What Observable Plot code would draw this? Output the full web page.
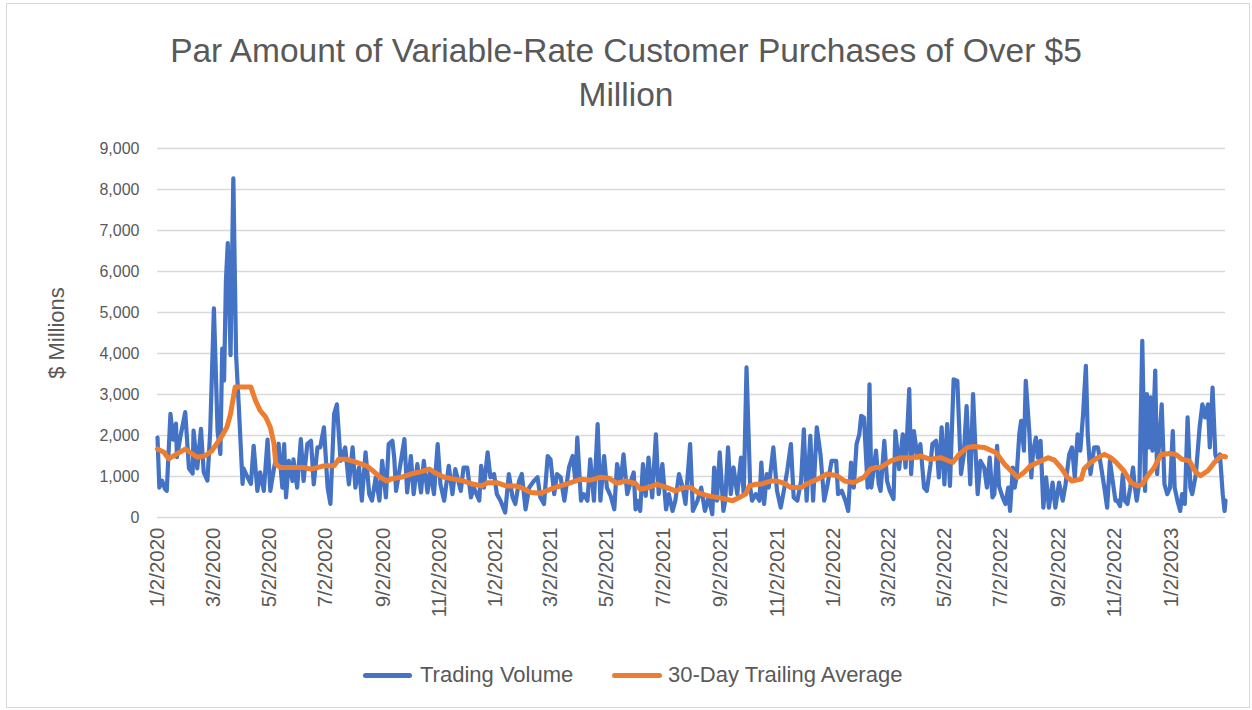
<!DOCTYPE html>
<html><head><meta charset="utf-8">
<script src="https://cdn.jsdelivr.net/npm/d3@7"></script>
<script src="https://cdn.jsdelivr.net/npm/@observablehq/plot@0.6"></script>
<style>
html,body{margin:0;padding:0;background:#fff;}
#chart{position:relative;width:1252px;height:710px;font-family:"Liberation Sans",Arial,sans-serif;color:#595959;overflow:hidden;background:#fff;}
#frame{position:absolute;left:6px;top:3px;width:1244px;height:705px;border:1px solid #d9d9d9;box-sizing:border-box;}
#title{position:absolute;left:0;width:1252px;top:29px;text-align:center;font-size:33.5px;line-height:44px;white-space:nowrap;}
#plot{position:absolute;left:0;top:120px;}
#ytitle{position:absolute;left:-43px;top:320px;width:200px;height:26px;line-height:26px;text-align:center;font-size:22px;transform:rotate(-90deg);transform-origin:50% 50%;white-space:nowrap;}
.sw{position:absolute;height:5px;border-radius:2.5px;top:673px;}
.lt{position:absolute;top:662px;font-size:22px;line-height:26px;white-space:nowrap;}
</style></head>
<body>
<div id="chart">
  <div id="frame"></div>
  <div id="title"></div>
  <div id="plot"></div>
  <div id="ytitle"></div>
  <div id="legend"></div>
</div>
<script>
// ---------- data ----------
const titleLines = ["Par Amount of Variable-Rate Customer Purchases of Over $5", "Million"];
const yAxisTitle = "$ Millions";
const seriesNames = ["Trading Volume", "30-Day Trailing Average"];
const seriesColors = ["#4472C4", "#ED7D31"];

const yTicks = [0, 1000, 2000, 3000, 4000, 5000, 6000, 7000, 8000, 9000];
const xTickDates = ["2020-01-02","2020-03-02","2020-05-02","2020-07-02","2020-09-02","2020-11-02",
  "2021-01-02","2021-03-02","2021-05-02","2021-07-02","2021-09-02","2021-11-02",
  "2022-01-02","2022-03-02","2022-05-02","2022-07-02","2022-09-02","2022-11-02","2023-01-02"];
const xTickLabels = ["1/2/2020","3/2/2020","5/2/2020","7/2/2020","9/2/2020","11/2/2020",
  "1/2/2021","3/2/2021","5/2/2021","7/2/2021","9/2/2021","11/2/2021",
  "1/2/2022","3/2/2022","5/2/2022","7/2/2022","9/2/2022","11/2/2022","1/2/2023"];
const xDomain = ["2020-01-02", "2023-03-02"];

// Trading Volume ($ millions)
const volumeDates = [
"2020-01-02","2020-01-04","2020-01-07","2020-01-10","2020-01-12","2020-01-16","2020-01-19","2020-01-22","2020-01-23","2020-01-27",
"2020-02-01","2020-02-05","2020-02-09","2020-02-10","2020-02-14","2020-02-18","2020-02-21","2020-02-25","2020-02-28",
"2020-03-03","2020-03-07","2020-03-10","2020-03-12","2020-03-14","2020-03-16","2020-03-18","2020-03-21","2020-03-24","2020-03-27","2020-03-30",
"2020-04-03","2020-04-04","2020-04-08","2020-04-12","2020-04-15","2020-04-19","2020-04-22","2020-04-26","2020-04-30",
"2020-05-03","2020-05-07","2020-05-12","2020-05-16","2020-05-18","2020-05-20","2020-05-23","2020-05-27","2020-05-28",
"2020-06-01","2020-06-05","2020-06-08","2020-06-12","2020-06-16","2020-06-19","2020-06-23","2020-06-26","2020-06-30",
"2020-07-04","2020-07-07","2020-07-11","2020-07-14","2020-07-18","2020-07-23","2020-07-27","2020-07-31",
"2020-08-03","2020-08-07","2020-08-10","2020-08-14","2020-08-18","2020-08-21","2020-08-25","2020-08-29",
"2020-09-01","2020-09-05","2020-09-08","2020-09-12","2020-09-14","2020-09-16","2020-09-19","2020-09-25","2020-09-28",
"2020-10-02","2020-10-05","2020-10-09","2020-10-13","2020-10-16","2020-10-20","2020-10-23","2020-10-27","2020-10-31",
"2020-11-03","2020-11-07","2020-11-12","2020-11-16","2020-11-19","2020-11-25","2020-11-28",
"2020-12-02","2020-12-06","2020-12-09","2020-12-15","2020-12-17","2020-12-20","2020-12-24","2020-12-27","2020-12-31",
"2021-01-03","2021-01-07","2021-01-12","2021-01-16","2021-01-20","2021-01-23","2021-01-27","2021-01-30",
"2021-02-03","2021-02-07","2021-02-12","2021-02-16","2021-02-19","2021-02-23","2021-02-27",
"2021-03-02","2021-03-06","2021-03-09","2021-03-13","2021-03-17","2021-03-22","2021-03-26","2021-03-29","2021-03-31",
"2021-04-04","2021-04-07","2021-04-11","2021-04-14","2021-04-18","2021-04-22","2021-04-25","2021-04-29",
"2021-05-02","2021-05-06","2021-05-10","2021-05-13","2021-05-17","2021-05-20","2021-05-24","2021-05-28","2021-05-31",
"2021-06-02","2021-06-04","2021-06-07","2021-06-10","2021-06-13","2021-06-16","2021-06-20","2021-06-24","2021-06-27",
"2021-07-01","2021-07-05","2021-07-08","2021-07-12","2021-07-15","2021-07-19","2021-07-23","2021-07-26","2021-07-31",
"2021-08-03","2021-08-08","2021-08-12","2021-08-16","2021-08-20","2021-08-24","2021-08-26","2021-08-29",
"2021-09-01","2021-09-05","2021-09-07","2021-09-10","2021-09-13","2021-09-16","2021-09-20","2021-09-24","2021-09-27","2021-09-30",
"2021-10-04","2021-10-06","2021-10-10","2021-10-14","2021-10-16","2021-10-19","2021-10-22","2021-10-24","2021-10-29",
"2021-11-02","2021-11-06","2021-11-10","2021-11-13","2021-11-17","2021-11-20","2021-11-24","2021-11-28",
"2021-12-01","2021-12-04","2021-12-08","2021-12-11","2021-12-15","2021-12-19","2021-12-23","2021-12-26","2021-12-31",
"2022-01-05","2022-01-07","2022-01-11","2022-01-15","2022-01-18","2022-01-21","2022-01-24","2022-01-27","2022-01-30",
"2022-02-01","2022-02-04","2022-02-08","2022-02-10","2022-02-12","2022-02-17","2022-02-20","2022-02-22","2022-02-26",
"2022-03-01","2022-03-04","2022-03-08","2022-03-10","2022-03-14","2022-03-18","2022-03-21","2022-03-25","2022-03-27","2022-03-30",
"2022-04-03","2022-04-06","2022-04-10","2022-04-13","2022-04-17","2022-04-19","2022-04-23","2022-04-26","2022-04-29",
"2022-05-02","2022-05-05","2022-05-08","2022-05-12","2022-05-16","2022-05-20","2022-05-23","2022-05-26","2022-05-30",
"2022-06-02","2022-06-05","2022-06-07","2022-06-10","2022-06-14","2022-06-17","2022-06-20","2022-06-23","2022-06-25","2022-06-28","2022-06-30",
"2022-07-04","2022-07-07","2022-07-10","2022-07-12","2022-07-15","2022-07-17","2022-07-19","2022-07-22","2022-07-24","2022-07-27","2022-07-29",
"2022-08-02","2022-08-04","2022-08-06","2022-08-09","2022-08-11","2022-08-14","2022-08-17","2022-08-20","2022-08-23","2022-08-27","2022-08-30",
"2022-09-03","2022-09-07","2022-09-10","2022-09-14","2022-09-17","2022-09-20","2022-09-23","2022-09-26","2022-09-29",
"2022-10-02","2022-10-04","2022-10-07","2022-10-11","2022-10-15","2022-10-18","2022-10-22","2022-10-25","2022-10-28","2022-10-31",
"2022-11-03","2022-11-05","2022-11-08","2022-11-11","2022-11-13","2022-11-16","2022-11-19","2022-11-22","2022-11-24","2022-11-26","2022-11-29",
"2022-12-02","2022-12-05","2022-12-07","2022-12-09","2022-12-11","2022-12-13","2022-12-16","2022-12-18","2022-12-23","2022-12-26","2022-12-29",
"2023-01-01","2023-01-04","2023-01-06","2023-01-09","2023-01-12","2023-01-14","2023-01-17","2023-01-20","2023-01-23","2023-01-25","2023-01-29",
"2023-02-02","2023-02-05","2023-02-08","2023-02-11","2023-02-13","2023-02-16","2023-02-19","2023-02-21","2023-02-24","2023-02-27",
"2023-03-01","2023-03-02"];
const volumeValues = [
1950,730,900,700,650,2530,1900,2290,1470,2000,
2570,1200,1070,2120,1200,2160,1100,900,2100,
5100,2100,1550,4120,3340,5780,6690,3960,8270,3960,2680,
820,1200,1000,820,1750,650,1100,650,1900,
650,1200,1800,730,1790,490,1380,890,1420,
730,1910,890,1790,1870,810,1710,1710,2200,
730,330,2520,2760,1380,1710,810,1710,
730,1220,410,1590,570,410,980,410,
1380,490,1790,1870,1460,650,1060,1910,610,
1500,570,1300,610,1380,610,1140,570,1790,
810,410,1260,570,1180,650,1220,
1220,490,730,410,1260,730,1590,980,1060,
570,410,120,1060,490,330,890,1060,
200,730,890,980,490,330,1500,
1420,570,1060,980,410,1220,1500,890,1950,
410,570,410,1420,410,2280,410,1500,
730,530,200,1300,890,1540,570,890,1100,
200,410,160,1300,530,1460,490,2030,570,
1300,200,570,160,410,1060,730,330,1790,
160,410,730,160,490,80,1220,410,
1590,160,410,1710,570,1220,570,1460,570,3660,
730,410,570,410,1340,330,1060,730,1710,
650,240,730,1140,1790,490,410,890,
2150,410,1990,410,2200,1540,410,730,1380,
1380,570,650,410,160,1340,730,1790,2030,
2480,2440,730,3250,730,1630,810,650,1870,
890,650,450,2110,1180,2030,1220,3130,1060,2110,
1460,1790,730,650,1300,1790,1870,980,2200,
810,2280,770,3370,3330,1060,1540,2720,810,
3010,1460,570,1380,1220,730,1460,490,570,1750,770,
490,330,730,160,1220,730,980,2030,2360,1630,3330,
2030,980,1630,1950,1460,1870,240,980,240,850,240,
850,410,810,1540,1710,980,2030,1630,2520,
3700,2030,1060,1710,1710,1300,730,240,1380,890,
410,410,280,1060,410,330,730,1220,730,410,890,
4310,650,3010,1710,2930,1630,3580,1060,2760,810,570,
730,2110,730,410,160,570,330,2440,730,570,1060,
2200,2760,2440,2760,1710,3170,1540,1380,1540,570,
160,410];

// 30-Day Trailing Average ($ millions)
const averageDates = [
"2020-01-02","2020-01-09","2020-01-14","2020-01-23","2020-02-01","2020-02-14","2020-02-23","2020-03-01","2020-03-07","2020-03-12",
"2020-03-17","2020-03-21","2020-03-26","2020-04-12","2020-04-17","2020-04-22","2020-04-28","2020-05-03","2020-05-07","2020-05-09",
"2020-05-14","2020-05-25","2020-06-08","2020-06-16","2020-06-30","2020-07-11","2020-07-16","2020-07-25","2020-08-05","2020-08-15",
"2020-08-22","2020-08-30","2020-09-06","2020-09-10","2020-09-21","2020-10-02","2020-10-13","2020-10-22","2020-10-31","2020-11-07",
"2020-11-18","2020-11-28","2020-12-09","2020-12-18","2020-12-24","2021-01-03","2021-01-13","2021-01-23","2021-01-29","2021-02-09",
"2021-02-19","2021-03-02","2021-03-13","2021-03-24","2021-04-04","2021-04-14","2021-04-25","2021-05-04","2021-05-13","2021-05-22",
"2021-06-02","2021-06-07","2021-06-16","2021-06-25","2021-07-06","2021-07-15","2021-07-24","2021-08-01","2021-08-08","2021-08-19",
"2021-08-29","2021-09-07","2021-09-15","2021-09-22","2021-09-29","2021-10-03","2021-10-10","2021-10-15","2021-10-26","2021-11-02",
"2021-11-10","2021-11-17","2021-11-28","2021-12-05","2021-12-16","2021-12-26","2022-01-06","2022-01-14","2022-01-24","2022-02-04",
"2022-02-11","2022-02-17","2022-02-22","2022-03-05","2022-03-16","2022-03-27","2022-04-06","2022-04-17","2022-04-28","2022-05-11",
"2022-05-18","2022-05-27","2022-06-03","2022-06-14","2022-06-27","2022-07-06","2022-07-13","2022-07-20","2022-07-27","2022-08-03",
"2022-08-11","2022-08-22","2022-08-29","2022-09-05","2022-09-12","2022-09-17","2022-09-27","2022-09-30","2022-10-07","2022-10-15",
"2022-10-22","2022-10-29","2022-11-04","2022-11-12","2022-11-20","2022-11-27","2022-12-02","2022-12-08","2022-12-15","2022-12-22",
"2022-12-31","2023-01-07","2023-01-14","2023-01-22","2023-01-29","2023-02-03","2023-02-11","2023-02-18","2023-02-25","2023-03-02"];
const averageValues = [
1670,1590,1430,1550,1670,1470,1510,1630,1830,2000,
2200,2530,3180,3180,2850,2610,2450,2200,1800,1300,
1220,1220,1220,1180,1260,1260,1420,1420,1340,1260,
1140,980,890,935,980,1060,1120,1180,1060,980,
935,890,810,770,850,850,770,770,730,610,
590,690,770,850,935,910,980,960,830,890,
830,690,730,810,730,650,730,730,610,530,
490,450,410,490,570,770,810,810,890,890,
830,730,730,830,935,1060,1020,890,850,980,
1180,1220,1220,1380,1460,1450,1500,1420,1460,1340,
1540,1710,1730,1710,1580,1300,1140,980,1100,1260,
1340,1460,1400,1220,980,890,935,1180,1340,1460,
1540,1460,1340,1140,850,770,810,1020,1220,1530,
1560,1540,1420,1380,1100,1020,1140,1340,1500,1480];

// ---------- build ----------
const parse = d3.utcParse("%Y-%m-%d");
const volume = volumeDates.map((d, i) => ({date: parse(d), value: volumeValues[i]}));
const average = averageDates.map((d, i) => ({date: parse(d), value: averageValues[i]}));
const xTicks = xTickDates.map(parse);
const labelOf = new Map(xTicks.map((d, i) => [+d, xTickLabels[i]]));
const FONT = '"Liberation Sans", Arial, sans-serif';

document.getElementById("title").innerHTML = titleLines.join("<br>");
document.getElementById("ytitle").textContent = yAxisTitle;

const chart = Plot.plot({
  width: 1252,
  height: 520,
  marginLeft: 157,
  marginRight: 27,
  marginTop: 28,
  marginBottom: 123,
  style: {fontFamily: FONT, color: "#595959", background: "transparent", overflow: "visible"},
  x: {type: "utc", domain: xDomain.map(parse)},
  y: {domain: [0, 9000]},
  marks: [
    Plot.gridY(yTicks, {stroke: "#d9d9d9", strokeOpacity: 1, strokeWidth: 1.3}),
    Plot.axisY(yTicks, {tickSize: 0, tickPadding: 18, tickFormat: d3.format(","), fontSize: 16, label: null, fill: "#595959"}),
    Plot.axisX(xTicks, {tickSize: 0, tickPadding: 10, tickRotate: -90, tickFormat: d => labelOf.get(+d), fontSize: 20.5, label: null, fill: "#595959"}),
    Plot.lineY(volume, {x: "date", y: "value", stroke: seriesColors[0], strokeWidth: 4.2, strokeLinejoin: "round", strokeLinecap: "round"}),
    Plot.lineY(average, {x: "date", y: "value", stroke: seriesColors[1], strokeWidth: 5, strokeLinejoin: "round", strokeLinecap: "round"})
  ]
});
document.getElementById("plot").appendChild(chart);

// legend
const legend = document.getElementById("legend");
const legendPos = [[363, 49, 420], [612, 50, 668]];
seriesNames.forEach((name, i) => {
  const sw = document.createElement("div");
  sw.className = "sw";
  sw.style.left = legendPos[i][0] + "px";
  sw.style.width = legendPos[i][1] + "px";
  sw.style.background = seriesColors[i];
  legend.appendChild(sw);
  const t = document.createElement("div");
  t.className = "lt";
  t.style.left = legendPos[i][2] + "px";
  t.textContent = name;
  legend.appendChild(t);
});
</script>
</body></html>
